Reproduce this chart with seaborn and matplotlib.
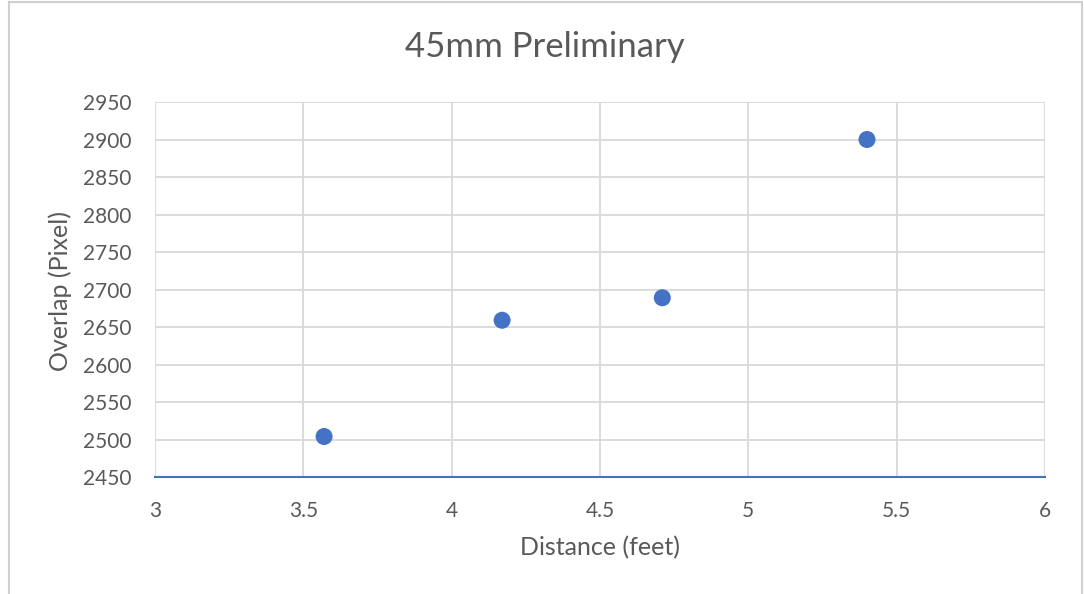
import matplotlib
matplotlib.use('Agg')
import matplotlib.pyplot as plt
import seaborn as sns
import pandas as pd
from matplotlib.patches import Rectangle

sns.set_theme(style="whitegrid")
plt.rcParams['font.family'] = ['Lato', 'DejaVu Sans']

distance = [3.57, 4.17, 4.71, 5.40]
overlap = [2504, 2659, 2689, 2900]
x_ticks = [3, 3.5, 4, 4.5, 5, 5.5, 6]
y_ticks = [2450, 2500, 2550, 2600, 2650, 2700, 2750, 2800, 2850, 2900, 2950]

df = pd.DataFrame({'Distance': distance, 'Overlap': overlap})
text_col = '#595959'
grid_col = '#d9d9d9'

fig = plt.figure(figsize=(10.84, 5.94), dpi=100)
fig.patch.set_facecolor('white')

# chart border like the Excel frame
fig.patches.append(Rectangle((9 / 1084, -0.01), (1082 - 9) / 1084, 1 - 2 / 594 + 0.01,
                             transform=fig.transFigure, fill=False,
                             edgecolor='#d0d0d0', linewidth=1.5))

ax = fig.add_axes([155 / 1084, 1 - 477 / 594, 890 / 1084, 375 / 594])
sns.scatterplot(data=df, x='Distance', y='Overlap', ax=ax, color='#4472C4',
                s=150, edgecolor='none', zorder=3)

ax.set_xlim(3, 6)
ax.set_ylim(2450, 2950)
ax.set_xticks(x_ticks)
ax.set_xticklabels(['3', '3.5', '4', '4.5', '5', '5.5', '6'])
ax.set_yticks(y_ticks)
ax.grid(True, color=grid_col, linewidth=1.3)
for side in ['top', 'right', 'left']:
    ax.spines[side].set_visible(False)
ax.spines['bottom'].set_color('#4472C4')
ax.spines['bottom'].set_linewidth(1.5)
ax.spines['bottom'].set_zorder(4)
ax.tick_params(axis='both', colors=text_col, labelsize=15, length=0)
ax.tick_params(axis='x', pad=17)
ax.tick_params(axis='y', pad=17)

ax.set_xlabel('Distance (feet)', fontsize=18, color=text_col)
ax.set_ylabel('Overlap (Pixel)', fontsize=18, color=text_col)
ax.xaxis.label.set_va('center')
ax.yaxis.label.set_va('center')
ax.xaxis.set_label_coords(600 / 1084, 1 - 548 / 594, transform=fig.transFigure)
ax.yaxis.set_label_coords(60 / 1084, 1 - 291 / 594, transform=fig.transFigure)

fig.text(545 / 1084, 1 - 47 / 594, '45mm Preliminary', fontsize=25, color=text_col,
         ha='center', va='center')

fig.savefig('out.png', dpi=100)
plt.close()
